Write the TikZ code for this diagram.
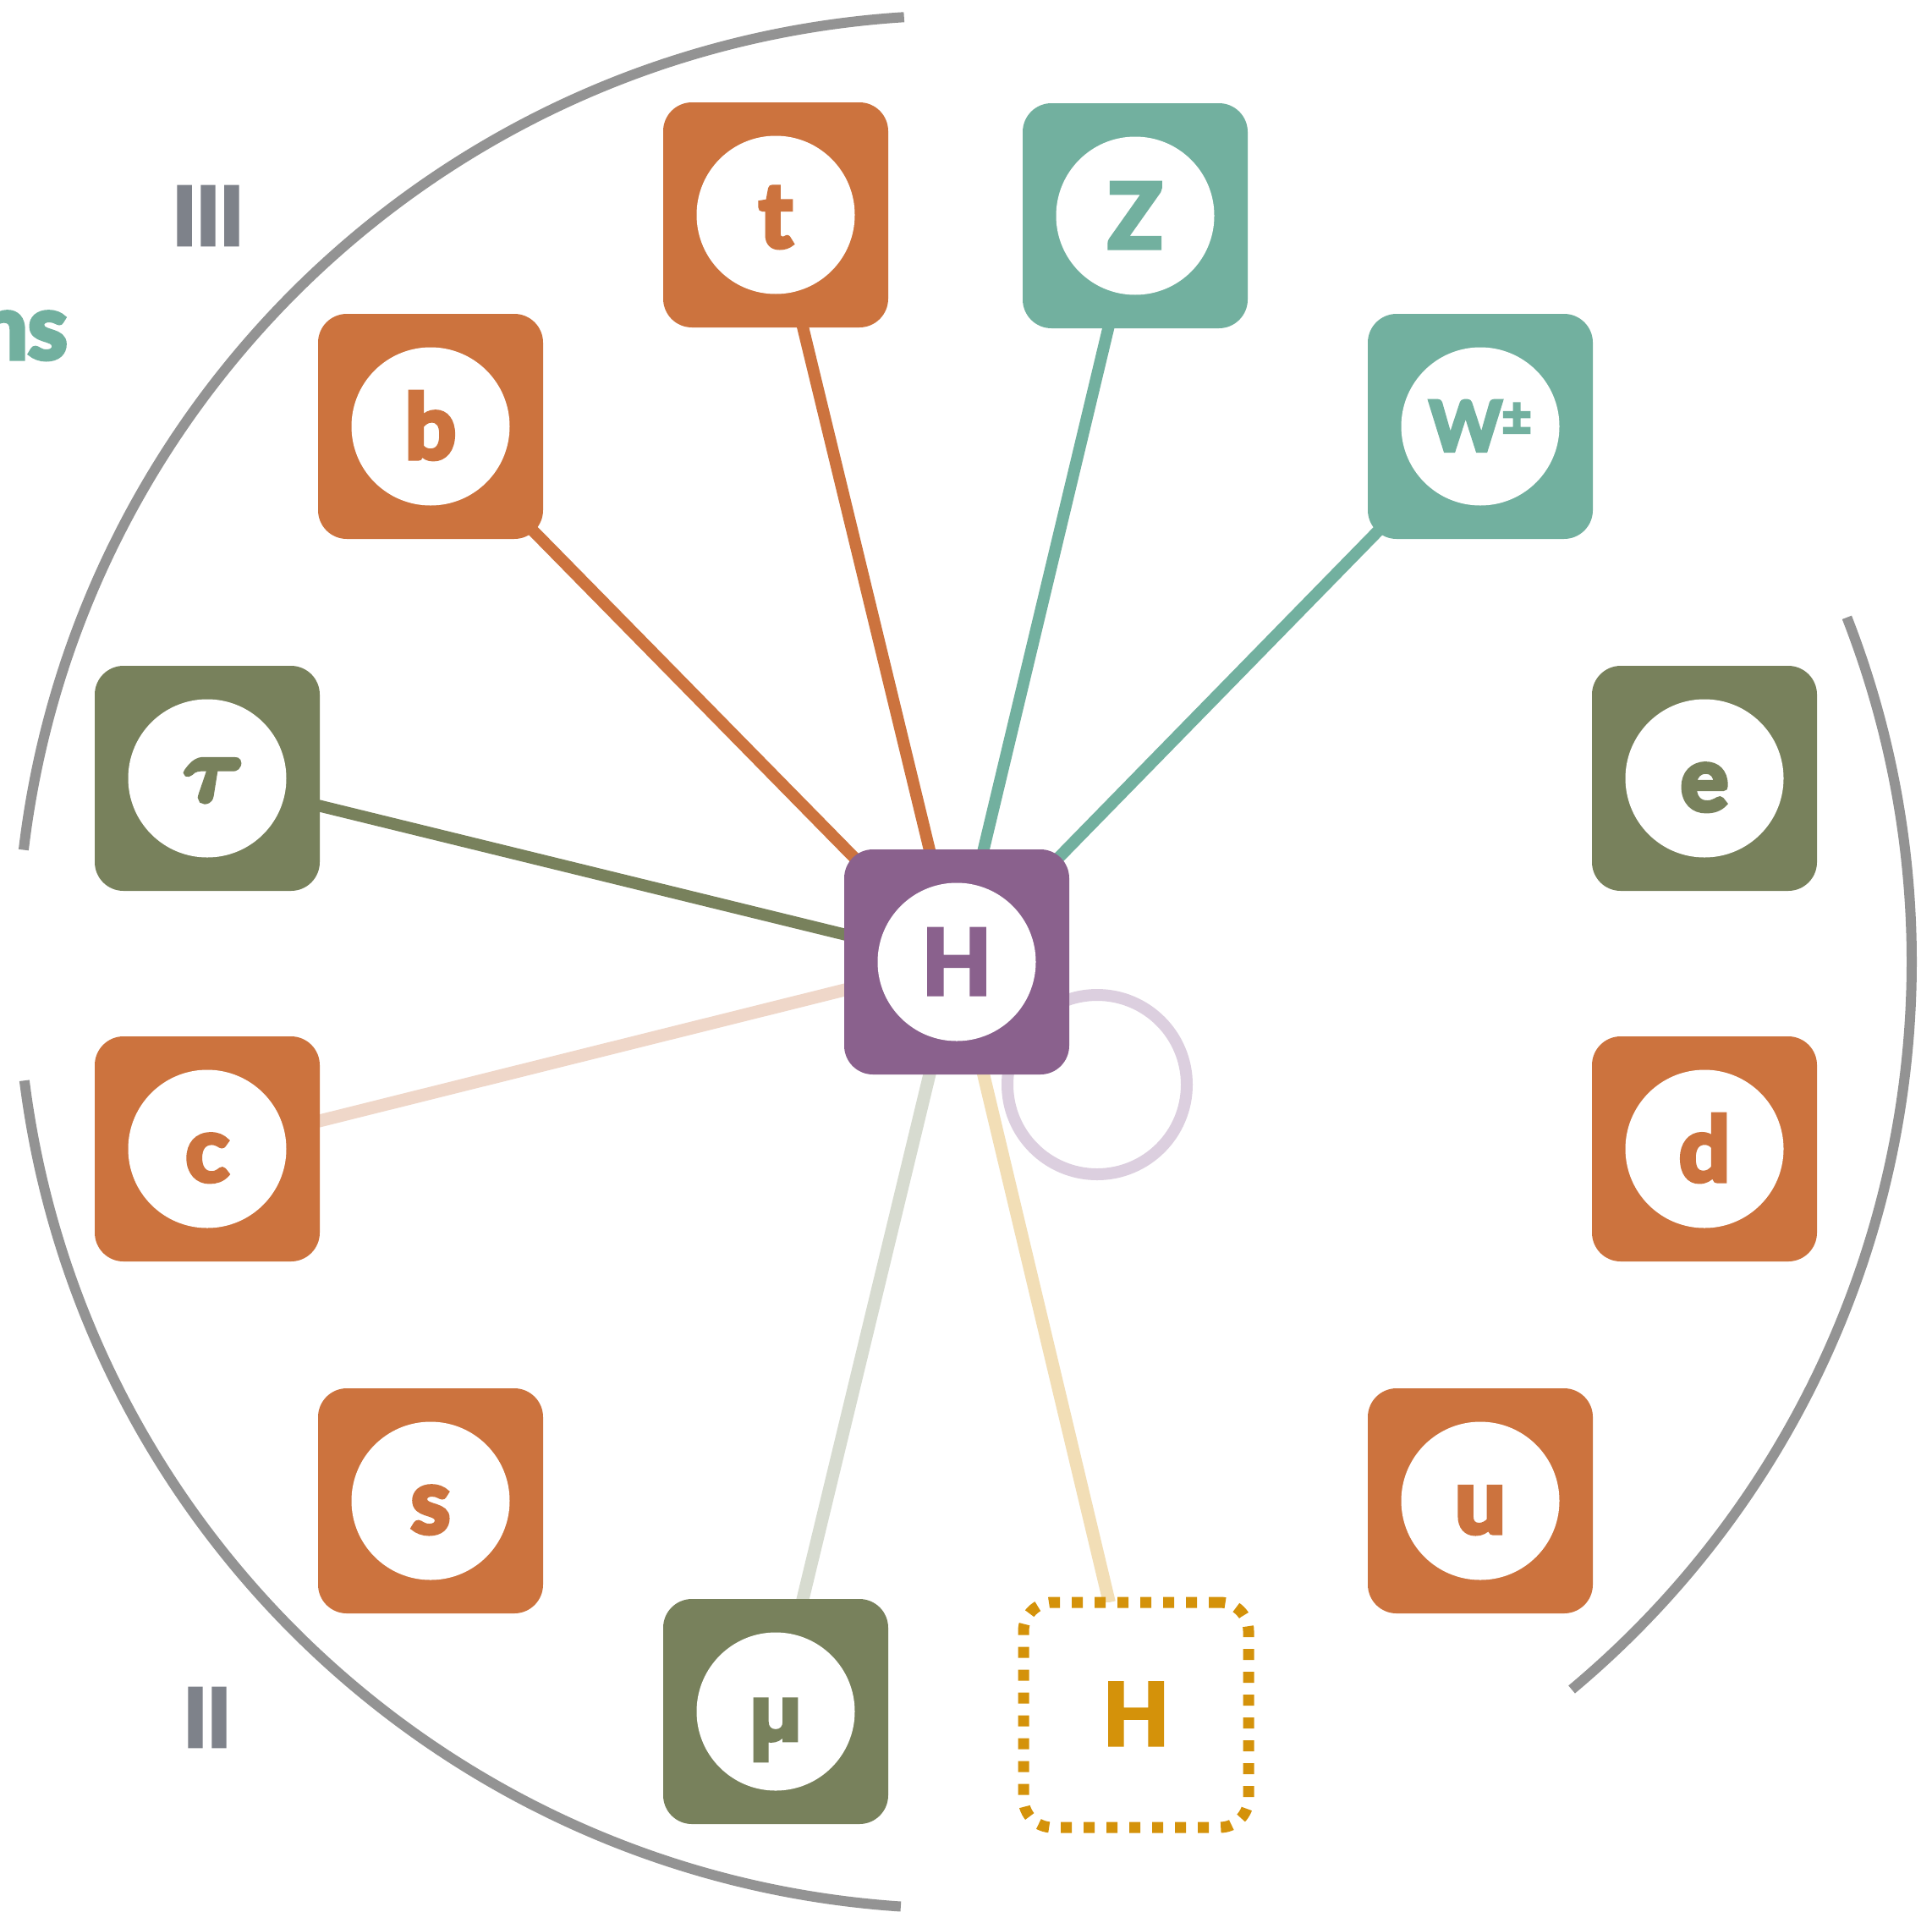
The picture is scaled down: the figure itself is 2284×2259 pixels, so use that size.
\documentclass[tikz,border=0pt]{standalone}
\usepackage{graphicx}
\usepackage{fontspec}
\setmainfont{Lato}[BoldFeatures={FakeBold=5}]
\newfontfamily\taufont{latinmodern-math.otf}[FakeBold=6]
\newfontfamily\mufont{Poppins}[BoldFeatures={FakeBold=3}]
\usetikzlibrary{backgrounds}
\definecolor{orng}{HTML}{CC733E}
\definecolor{tealc}{HTML}{72B09F}
\definecolor{olivec}{HTML}{78815C}
\definecolor{purpc}{HTML}{8A618D}
\definecolor{goldc}{HTML}{D4920A}
\definecolor{arcgray}{HTML}{939393}
\definecolor{lblgray}{HTML}{7E828A}
\definecolor{lpeach}{HTML}{EFD7C9}
\definecolor{lgrey}{HTML}{D7DBD0}
\definecolor{ltan}{HTML}{F2DEB6}
\definecolor{lpurp}{HTML}{DCCFDF}
\tikzset{
  pbox/.style={rectangle, rounded corners=17pt, minimum size=133pt, inner sep=0pt, outer sep=0pt, fill=#1},
  pcirc/.style={circle, fill=white, minimum size=93.5pt, inner sep=0pt},
  plabel/.style={anchor=base, text=#1, font=\bfseries\fontsize{53}{60}\selectfont, inner sep=0pt},
  hedge/.style={line width=7pt, draw=#1, line cap=butt},
  lhedge/.style={line width=7.5pt, draw=#1, line cap=butt},
  genarc/.style={line width=6pt, draw=arcgray},
  gentext/.style={anchor=base, inner sep=0pt, text=lblgray, font=\bfseries\fontsize{47}{50}\selectfont},
}
\newcommand\pbx[4]{% name, x, y, colour
  \node[pbox=#4] (#1) at (#2,#3) {};
  \node[pcirc] (#1-c) at (#2,#3) {};
}
\begin{document}
\begin{tikzpicture}[x=0.5pt, y=-0.5pt]
\useasboundingbox (0,0) rectangle (2284,2259);

% particle boxes
\pbx{t}{917}{254}{orng}
\node[plabel=orng] (t-l) at (917,292) {t};
\pbx{Z}{1342}{255}{tealc}
\node[plabel=tealc] (Z-l) at (1342,293) {Z};
\pbx{W}{1750}{504}{tealc}
\node[plabel=tealc] (W-l) at (1750,533) {\fontsize{41}{45}\selectfont W\raisebox{9.5pt}{\fontsize{30}{34}\selectfont ±}};
\pbx{b}{509}{504}{orng}
\node[plabel=orng] (b-l) at (509,542) {b};
\pbx{tau}{245}{920}{olivec}
\node[anchor=base, inner sep=0pt, text=olivec, font=\taufont\fontsize{54}{58}\selectfont] (tau-l) at (245,946) {𝝉};
\pbx{e}{2015}{920}{olivec}
\node[plabel=olivec] (e-l) at (2015,958) {e};
\pbx{H}{1131}{1137}{purpc}
\node[plabel=purpc] (H-l) at (1131,1175) {H};
\pbx{c}{245}{1358}{orng}
\node[plabel=orng] (c-l) at (245,1396) {c};
\pbx{d}{2015}{1358}{orng}
\node[plabel=orng] (d-l) at (2015,1396) {d};
\pbx{s}{509}{1774}{orng}
\node[plabel=orng] (s-l) at (509,1812) {s};
\pbx{u}{1750}{1774}{orng}
\node[plabel=orng] (u-l) at (1750,1812) {u};
\pbx{mu}{917}{2023}{olivec}
\node[plabel=olivec, font=\mufont\bfseries\fontsize{45}{50}\selectfont] (mu-l) at (917,2058) {µ};
\node[draw=goldc, fill=white, line width=6.5pt, dash pattern=on 6.5pt off 7pt, rounded corners=17pt, minimum size=133pt, inner sep=0pt, outer sep=0pt] (H2) at (1343,2027) {};
\node[plabel=goldc, font=\bfseries\fontsize{50}{55}\selectfont] (H2-l) at (1343,2062) {H};

% labels
\node[gentext] (gen3) at (246,289) {III};
\node[gentext] (gen2) at (245,2064) {II};
\node[anchor=base east, inner sep=0pt, text=tealc, font=\bfseries\fontsize{53}{60}\selectfont] (bos) at (80,424) {ns};

\begin{scope}[on background layer]
  \fill[white] (0,0) rectangle (2284,2259);
  \coordinate (gc) at (1139,1137);
  \draw[genarc] (gc) ++(93.6:559.5pt) arc[start angle=93.6, end angle=173.2, radius=559.5pt];
  \draw[genarc] (gc) ++(187.2:559.5pt) arc[start angle=187.2, end angle=266.2, radius=559.5pt];
  \draw[genarc] (gc) ++(21.3:560.5pt) arc[start angle=21.3, end angle=-50.1, radius=560.5pt];
  \draw[hedge=orng] (H.center) -- (t.center);
  \draw[hedge=orng] (H.center) -- (b.center);
  \draw[hedge=tealc] (H.center) -- (Z.center);
  \draw[hedge=tealc] (H.center) -- (W.center);
  \draw[hedge=olivec] (H.center) -- (tau.center);
  \draw[lhedge=lpeach] (H.center) -- (c.center);
  \draw[lhedge=lgrey] (H.center) -- (mu.center);
  \draw[lhedge=ltan] (H.center) -- (H2);
  \coordinate (loopc) at (1297,1282);
  \draw[line width=7pt, draw=lpurp] (loopc) circle[radius=53pt];
\end{scope}
\end{tikzpicture}
\end{document}
